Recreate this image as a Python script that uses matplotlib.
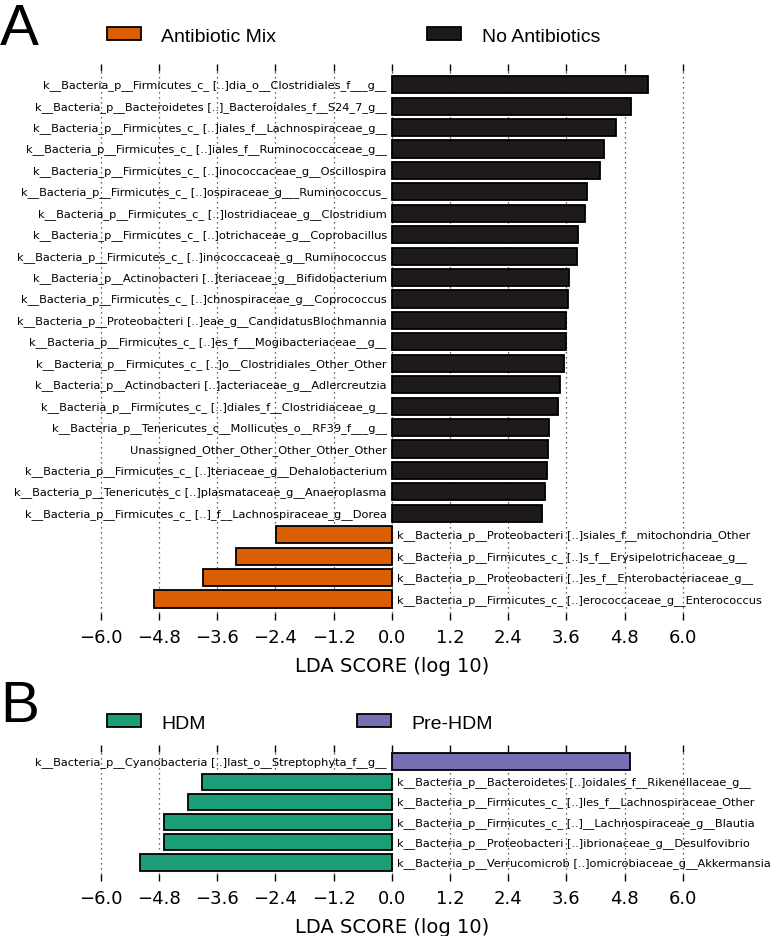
import matplotlib
matplotlib.use("Agg")
import matplotlib.pyplot as plt
import numpy as np

# ---------------- data ----------------
a_labels = [
    "k__Bacteria_p__Firmicutes_c_ [..]dia_o__Clostridiales_f___g__",
    "k__Bacteria_p__Bacteroidetes [..]_Bacteroidales_f__S24_7_g__",
    "k__Bacteria_p__Firmicutes_c_ [..]iales_f__Lachnospiraceae_g__",
    "k__Bacteria_p__Firmicutes_c_ [..]iales_f__Ruminococcaceae_g__",
    "k__Bacteria_p__Firmicutes_c_ [..]inococcaceae_g__Oscillospira",
    "k__Bacteria_p__Firmicutes_c_ [..]ospiraceae_g___Ruminococcus_",
    "k__Bacteria_p__Firmicutes_c_ [..]lostridiaceae_g__Clostridium",
    "k__Bacteria_p__Firmicutes_c_ [..]otrichaceae_g__Coprobacillus",
    "k__Bacteria_p__Firmicutes_c_ [..]inococcaceae_g__Ruminococcus",
    "k__Bacteria_p__Actinobacteri [..]teriaceae_g__Bifidobacterium",
    "k__Bacteria_p__Firmicutes_c_ [..]chnospiraceae_g__Coprococcus",
    "k__Bacteria_p__Proteobacteri [..]eae_g__CandidatusBlochmannia",
    "k__Bacteria_p__Firmicutes_c_ [..]es_f___Mogibacteriaceae__g__",
    "k__Bacteria_p__Firmicutes_c_ [..]o__Clostridiales_Other_Other",
    "k__Bacteria_p__Actinobacteri [..]acteriaceae_g__Adlercreutzia",
    "k__Bacteria_p__Firmicutes_c_ [..]diales_f__Clostridiaceae_g__",
    "k__Bacteria_p__Tenericutes_c__Mollicutes_o__RF39_f___g__",
    "Unassigned_Other_Other_Other_Other_Other",
    "k__Bacteria_p__Firmicutes_c_ [..]teriaceae_g__Dehalobacterium",
    "k__Bacteria_p__Tenericutes_c [..]plasmataceae_g__Anaeroplasma",
    "k__Bacteria_p__Firmicutes_c_ [..]_f__Lachnospiraceae_g__Dorea",
    "k__Bacteria_p__Proteobacteri [..]siales_f__mitochondria_Other",
    "k__Bacteria_p__Firmicutes_c_ [..]s_f__Erysipelotrichaceae_g__",
    "k__Bacteria_p__Proteobacteri [..]es_f__Enterobacteriaceae_g__",
    "k__Bacteria_p__Firmicutes_c_ [..]erococcaceae_g__Enterococcus",
]
a_values = [5.28, 4.93, 4.62, 4.38, 4.30, 4.02, 3.99, 3.84, 3.83, 3.66,
            3.63, 3.59, 3.59, 3.56, 3.47, 3.42, 3.24, 3.23, 3.20, 3.17,
            3.10, -2.39, -3.20, -3.90, -4.90]
a_groups = ["No Antibiotics", "Antibiotic Mix"]

b_labels = [
    "k__Bacteria_p__Cyanobacteria [..]last_o__Streptophyta_f__g__",
    "k__Bacteria_p__Bacteroidetes [..]oidales_f__Rikenellaceae_g__",
    "k__Bacteria_p__Firmicutes_c_ [..]les_f__Lachnospiraceae_Other",
    "k__Bacteria_p__Firmicutes_c_ [..]__Lachnospiraceae_g__Blautia",
    "k__Bacteria_p__Proteobacteri [..]ibrionaceae_g__Desulfovibrio",
    "k__Bacteria_p__Verrucomicrob [..]omicrobiaceae_g__Akkermansia",
]
b_values = [4.91, -3.91, -4.21, -4.69, -4.69, -5.18]
b_groups = ["Pre-HDM", "HDM"]

xticks = [-6.0, -4.8, -3.6, -2.4, -1.2, 0.0, 1.2, 2.4, 3.6, 4.8, 6.0]

# ---------------- style ----------------
W, H = 778, 937
fig = plt.figure(figsize=(W / 100, H / 100), dpi=100)


def fx(px):
    return px / W


def fy(py):
    return 1 - py / H


x_zero_px, unit_px = 391.7, 48.5
xlim = (-6.5, 6.5)
ax_left = x_zero_px + xlim[0] * unit_px
ax_right = x_zero_px + xlim[1] * unit_px

LEG_FONT = ["Liberation Sans", "DejaVu Sans"]


def panel(ax, labels, values, pos_color, neg_color, pos_name, neg_name,
          ylim, leg_y_px, letter, letter_base_px):
    y = np.arange(len(values))
    vals = np.array(values)
    colors = [pos_color if v > 0 else neg_color for v in vals]
    ax.barh(y, vals, height=0.8, color=colors, edgecolor="black",
            linewidth=1.3, zorder=3)
    for yi, v, lab in zip(y, vals, labels):
        if v > 0:
            ax.annotate(lab, (0, yi), xytext=(-3.5, 0), textcoords="offset points",
                        ha="right", va="center", fontsize=8.2, zorder=4)
        else:
            ax.annotate(lab, (0, yi), xytext=(3.5, 0), textcoords="offset points",
                        ha="left", va="center", fontsize=8.2, zorder=4)
    ax.set_xlim(*xlim)
    ax.set_ylim(*ylim)
    ax.set_yticks([])
    ax.set_xticks(xticks)
    ax.set_xticklabels([f"{t:.1f}".replace("-", "\u2212") for t in xticks],
                       fontsize=13)
    ax.tick_params(axis="x", which="both", top=True, bottom=True,
                   direction="out", length=5, width=1, pad=6)
    for s in ax.spines.values():
        s.set_visible(False)
    ax.grid(axis="x", linestyle=(0, (1, 3)), color="#333333", linewidth=0.9,
            zorder=0)
    ax.set_axisbelow(True)
    ax.set_xlabel("LDA SCORE (log 10)", fontsize=14, labelpad=7)

    # legend handles
    hn = ax.barh([np.nan], [np.nan], color=neg_color, edgecolor="black",
                 linewidth=1.3, label=neg_name)
    hp = ax.barh([np.nan], [np.nan], color=pos_color, edgecolor="black",
                 linewidth=1.3, label=pos_name)
    fig.legend(handles=[hn, hp], labels=[neg_name, pos_name], ncol=2,
               loc="center left", bbox_to_anchor=(fx(107), fy(leg_y_px)),
               frameon=False, borderpad=0, borderaxespad=0,
               handlelength=1.75, handleheight=0.65, handletextpad=1.05,
               columnspacing=7.75, prop={"family": LEG_FONT, "size": 14})
    fig.text(fx(0), fy(letter_base_px), letter, fontsize=42, family=LEG_FONT,
             ha="left", va="baseline")


axA = fig.add_axes([fx(ax_left), fy(614), fx(ax_right - ax_left),
                    (614 - 72) / H])
panel(axA, a_labels, a_values, "#1e1a1a", "#d95f02", a_groups[0], a_groups[1],
      (24.65, -0.64), 37, "A", 45)

axB = fig.add_axes([fx(ax_left), fy(875), fx(ax_right - ax_left),
                    (875 - 753) / H])
panel(axB, b_labels, b_values, "#7570b3", "#1b9e77", b_groups[0], b_groups[1],
      (5.57, -0.47), 724, "B", 722)

fig.savefig("out.png", dpi=100)
